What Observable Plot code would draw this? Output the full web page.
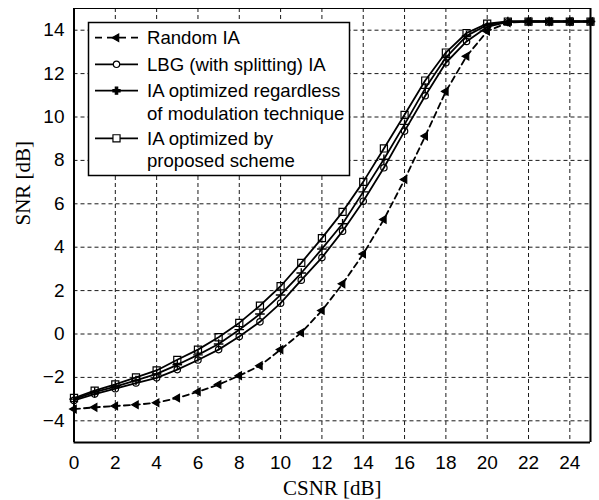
<!DOCTYPE html>
<html>
<head>
<meta charset="utf-8">
<script src="https://cdn.jsdelivr.net/npm/d3@7"></script>
<script src="https://cdn.jsdelivr.net/npm/@observablehq/plot@0.6"></script>
<style>
  html, body { margin: 0; padding: 0; background: #fff; }
</style>
</head>
<body>
<div id="chart"></div>
<script>
// ---- data ----
const csnr = [0,1,2,3,4,5,6,7,8,9,10,11,12,13,14,15,16,17,18,19,20,21,22,23,24,25];
const randomIA = [-3.46,-3.38,-3.32,-3.26,-3.17,-2.95,-2.66,-2.33,-1.92,-1.46,-0.72,0.06,1.08,2.31,3.69,5.28,7.12,9.12,11.18,12.8,13.95,14.35,14.4,14.4,14.4,14.4];
const lbgIA = [-3.06,-2.77,-2.52,-2.26,-2.02,-1.64,-1.2,-0.72,-0.12,0.56,1.42,2.48,3.52,4.74,6.12,7.66,9.35,10.98,12.5,13.48,14.15,14.38,14.4,14.4,14.4,14.4];
const regardlessIA = [-3.0,-2.68,-2.42,-2.14,-1.84,-1.42,-0.96,-0.46,0.2,0.92,1.8,2.81,3.92,5.08,6.55,8.05,9.66,11.32,12.74,13.74,14.24,14.4,14.4,14.4,14.4,14.4];
const proposedIA = [-2.95,-2.61,-2.32,-2.0,-1.68,-1.19,-0.72,-0.15,0.51,1.31,2.2,3.28,4.42,5.63,7.01,8.55,10.1,11.68,12.97,13.87,14.3,14.4,14.4,14.4,14.4,14.4];
const xTicks = [0,2,4,6,8,10,12,14,16,18,20,22,24];
const yTicks = [-4,-2,0,2,4,6,8,10,12,14];
const legendLabels = [["Random IA"], ["LBG (with splitting) IA"], ["IA optimized regardless", "of modulation technique"], ["IA optimized by", "proposed scheme"]];
const xLabel = "CSNR [dB]";
const yLabel = "SNR [dB]";

const toRows = (arr) => csnr.map((x, i) => ({x, y: arr[i]}));
const rRandom = toRows(randomIA);
const rLbg = toRows(lbgIA);
const rReg = toRows(regardlessIA);
const rProp = toRows(proposedIA);

const sans = "Liberation Sans, Arial, Helvetica, sans-serif";
const serif = "Liberation Serif, Times New Roman, serif";
const fs = 19;
const legendFs = 18.6;

const chart = Plot.plot({
  width: 599,
  height: 500,
  marginLeft: 73.5,
  marginRight: 9,
  marginTop: 8,
  marginBottom: 58,
  style: {fontFamily: sans, fontSize: fs + "px", color: "#000", background: "#fff"},
  x: {domain: [0, 25], axis: null},
  y: {domain: [-5, 15], axis: null},
  marks: [
    // grid
    Plot.ruleX(xTicks.filter(d => d > 0), {stroke: "#1a1a1a", strokeWidth: 1, strokeDasharray: "4,3"}),
    Plot.ruleY(yTicks, {stroke: "#1a1a1a", strokeWidth: 1, strokeDasharray: "4,3"}),
    // tick labels
    Plot.axisX(xTicks, {anchor: "bottom", tickSize: 0, tickPadding: 13, label: null, fontSize: fs}),
    Plot.axisY(yTicks, {anchor: "left", tickSize: 0, tickPadding: 9.5, label: null, fontSize: fs}),
    // axis titles
    Plot.text([xLabel], {frameAnchor: "bottom", dy: 46, fontFamily: serif, fontSize: 21, lineAnchor: "middle", fill: "#000"}),
    Plot.text([yLabel], {frameAnchor: "left", dx: -51, rotate: -90, fontFamily: serif, fontSize: 21, lineAnchor: "middle", fill: "#000"}),
    // series
    Plot.line(rRandom, {x: "x", y: "y", stroke: "#000", strokeWidth: 1.8, strokeDasharray: "6,4"}),
    Plot.dot(rRandom, {x: "x", y: "y", symbol: "triangle", rotate: -90, r: 2.8, stroke: "#000", strokeWidth: 1.2, fill: "#000"}),
    Plot.line(rLbg, {x: "x", y: "y", stroke: "#000", strokeWidth: 1.8}),
    Plot.dot(rLbg, {x: "x", y: "y", symbol: "circle", r: 3.2, stroke: "#000", strokeWidth: 1.2, fill: "none"}),
    Plot.line(rReg, {x: "x", y: "y", stroke: "#000", strokeWidth: 1.8}),
    Plot.dot(rReg, {x: "x", y: "y", symbol: "plus", r: 3.2, stroke: "#000", strokeWidth: 1.4}),
    Plot.line(rProp, {x: "x", y: "y", stroke: "#000", strokeWidth: 1.8}),
    Plot.dot(rProp, {x: "x", y: "y", symbol: "square", r: 4, stroke: "#000", strokeWidth: 1.2, fill: "none"}),
    // frame
    Plot.ruleX([0, 25], {stroke: "#000", strokeWidth: 2}),
    Plot.ruleY([-5], {stroke: "#000", strokeWidth: 2}),
    Plot.ruleY([15], {stroke: "#000", strokeWidth: 1})
  ]
});

document.getElementById("chart").appendChild(chart);

// ---- legend (inside the plot area, drawn with d3 into the same SVG) ----
const svg = d3.select(chart);
const lg = svg.append("g").attr("font-family", sans).attr("font-size", legendFs).attr("text-anchor", "start");
lg.append("rect").attr("x", 88.5).attr("y", 22.5).attr("width", 261).attr("height", 153)
  .attr("fill", "#fff").attr("stroke", "#000").attr("stroke-width", 1.5);
const rowY = [37.7, 64.3, 90.7, 138.3];
const sym = [d3.symbolTriangle, d3.symbolCircle, d3.symbolCross, d3.symbolSquare];
const symSize = [Math.PI*2.8*2.8, Math.PI*3.2*3.2, Math.PI*3.0*3.0, Math.PI*4*4];
legendLabels.forEach((lines, i) => {
  const y = rowY[i];
  lg.append("line").attr("x1", 95).attr("x2", 138).attr("y1", y).attr("y2", y)
    .attr("stroke", "#000").attr("stroke-width", 1.8)
    .attr("stroke-dasharray", i === 0 ? "7,5" : null);
  lg.append("path").attr("d", d3.symbol(sym[i], symSize[i])())
    .attr("transform", `translate(116.5,${y})` + (i === 0 ? " rotate(-90)" : ""))
    .attr("stroke", "#000").attr("stroke-width", 1.2)
    .attr("fill", (i === 0 || i === 2) ? "#000" : "#fff");
  lines.forEach((t, j) => {
    lg.append("text").attr("x", 147).attr("y", y + j * 22.6).attr("dy", "0.35em")
      .attr("text-anchor", "start").attr("fill", "#000").text(t);
  });
});
</script>
</body>
</html>
